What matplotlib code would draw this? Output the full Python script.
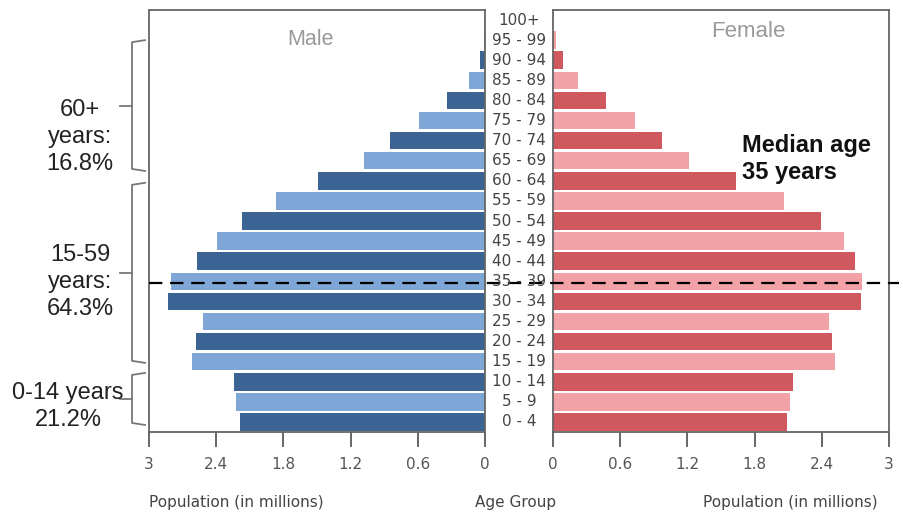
import numpy as np
import matplotlib
matplotlib.use("Agg")
import matplotlib.pyplot as plt
from matplotlib.transforms import blended_transform_factory
from matplotlib.lines import Line2D

# Age groups, bottom to top
age_groups = ["0 - 4", "5 - 9", "10 - 14", "15 - 19", "20 - 24", "25 - 29",
              "30 - 34", "35 - 39", "40 - 44", "45 - 49", "50 - 54", "55 - 59",
              "60 - 64", "65 - 69", "70 - 74", "75 - 79", "80 - 84", "85 - 89",
              "90 - 94", "95 - 99", "100+"]

# Population in millions
male = [2.19, 2.22, 2.24, 2.62, 2.58, 2.52, 2.83, 2.80, 2.57, 2.39, 2.17,
        1.87, 1.49, 1.08, 0.85, 0.59, 0.34, 0.14, 0.045, 0.01, 0.0]
female = [2.09, 2.12, 2.14, 2.52, 2.49, 2.46, 2.75, 2.76, 2.70, 2.60, 2.39,
          2.06, 1.63, 1.21, 0.97, 0.73, 0.47, 0.22, 0.09, 0.03, 0.0]

xticks = [0, 0.6, 1.2, 1.8, 2.4, 3]
xtick_labels = ["0", "0.6", "1.2", "1.8", "2.4", "3"]

# summary brackets: label, lower y, upper y (in age-row units), text y
groups = [("60+\nyears:\n16.8%", 12.49, 19.0, 14.2),
          ("15-59\nyears:\n64.3%", 2.94, 11.9, 6.95),
          ("0-14 years\n21.2%", -0.15, 2.44, 0.75)]
median_row = 6.9

male_cols = ["#3b6394", "#7ea6d6"]
female_cols = ["#d0595f", "#f2a2a6"]

W, H = 904, 515
fig = plt.figure(figsize=(W / 100, H / 100), dpi=100)

ax_m = fig.add_axes([149 / W, 1 - 432 / H, 336 / W, 422 / H])
ax_f = fig.add_axes([553 / W, 1 - 432 / H, 336 / W, 422 / H])

y = np.arange(len(age_groups))
m_colors = [male_cols[i % 2] for i in y]
f_colors = [female_cols[i % 2] for i in y]

ax_m.barh(y, male, height=0.87, color=m_colors)
ax_f.barh(y, female, height=0.87, color=f_colors)

for ax in (ax_m, ax_f):
    ax.set_ylim(-0.5, 20.5)
    ax.set_yticks([])
    ax.set_xticks(xticks)
    ax.set_xticklabels(xtick_labels, family="DejaVu Sans", fontsize=11, color="#555555")
    ax.tick_params(axis="x", direction="out", length=11, width=1.4, color="#666666", pad=7)
    for s in ax.spines.values():
        s.set_color("#666666")
        s.set_linewidth(1.3)

ax_m.set_xlim(3, 0)
ax_f.set_xlim(0, 3)

ax_m.text(0.48, 0.93, "Male", transform=ax_m.transAxes, ha="center", va="center",
          family="Liberation Sans", fontsize=15.5, color="#9a9a9a")
ax_f.text(0.58, 0.95, "Female", transform=ax_f.transAxes, ha="center", va="center",
          family="Liberation Sans", fontsize=16, color="#9a9a9a")

# age group labels between the two panels
tr = blended_transform_factory(fig.transFigure, ax_m.transData)
for i, lab in enumerate(age_groups):
    fig.text(519 / W, i, lab, transform=tr, ha="center", va="center",
             family="DejaVu Sans", fontsize=11, color="#444444")

# median line across both panels
fig.add_artist(Line2D([149 / W, 899 / W], [median_row, median_row], transform=tr,
                      color="black", lw=1.6, dashes=(6, 3.5)))

fig.text(742 / W, 1 - 159 / H, "Median age\n35 years", ha="left", va="center",
         family="Liberation Sans", fontsize=17, fontweight="bold", color="#111111",
         linespacing=1.2)

# brackets on the left
xv, xh, xn = 132 / W, 145 / W, 120 / W
text_x = [80, 80, 68]
for (lab, y0, y1, ty), tx in zip(groups, text_x):
    ym = (y0 + y1) / 2
    fig.add_artist(Line2D([xh, xv, xv, xh], [y1, y1 - 0.1, y0 + 0.1, y0], transform=tr,
                          color="#777777", lw=1.3))
    fig.add_artist(Line2D([xn, xv], [ym, ym], transform=tr, color="#777777", lw=1.3))
    fig.text(tx / W, ty, lab, transform=tr, ha="center", va="center",
             family="Liberation Sans", fontsize=17, color="#222222", linespacing=1.3)

# bottom labels
lab_kw = dict(family="DejaVu Sans", fontsize=11, color="#444444", va="center")
fig.text(149 / W, 1 - 503 / H, "Population (in millions)", ha="left", **lab_kw)
fig.text(516 / W, 1 - 503 / H, "Age Group", ha="center", **lab_kw)
fig.text(878 / W, 1 - 503 / H, "Population (in millions)", ha="right", **lab_kw)

fig.savefig("out.png", dpi=100)
